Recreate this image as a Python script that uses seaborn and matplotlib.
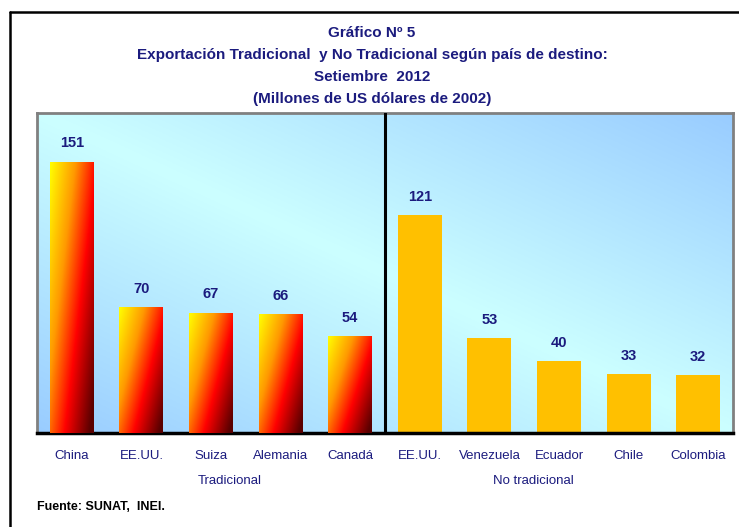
import numpy as np
import pandas as pd
import matplotlib
matplotlib.use('agg')
import matplotlib.pyplot as plt
from matplotlib.colors import LinearSegmentedColormap, to_rgb
import seaborn as sns

# data
paises = ['China', 'EE.UU.', 'Suiza', 'Alemania', 'Canadá',
          'EE.UU.', 'Venezuela', 'Ecuador', 'Chile', 'Colombia']
grupos = ['Tradicional'] * 5 + ['No tradicional'] * 5
valores = [151, 70, 67, 66, 54, 121, 53, 40, 33, 32]

titulo = ('Gráfico Nº 5\n'
          'Exportación Tradicional  y No Tradicional según país de destino:\n'
          'Setiembre  2012\n'
          '(Millones de US dólares de 2002)')
fuente = 'Fuente: SUNAT,  INEI.'

NAVY = '#1B1B7E'
FONT = ['Liberation Sans Narrow', 'Liberation Sans', 'DejaVu Sans']

sns.set_style('white')
plt.rcParams['font.family'] = FONT

df = pd.DataFrame({'clave': [f'{g}|{p}' for g, p in zip(grupos, paises)],
                   'pais': paises, 'grupo': grupos, 'valor': valores})

fig = plt.figure(figsize=(7.39, 5.27), dpi=100)
ax = fig.add_axes([37 / 739, 94 / 527, 696 / 739, 320 / 527])

# plot-area background: diagonal cyan / light blue gradient
u, v = np.meshgrid(np.linspace(0, 1, 200), np.linspace(0, 1, 200))
t = np.abs(u - v)
c1, c2 = np.array(to_rgb('#CCFFFF')), np.array(to_rgb('#99CCFF'))
bg = c1[None, None, :] * (1 - t[..., None]) + c2[None, None, :] * t[..., None]
ax.imshow(bg, extent=[0, 1, 0, 1], transform=ax.transAxes, aspect='auto',
          zorder=0, origin='upper')

sns.barplot(data=df, x='clave', y='valor', hue='grupo', dodge=False,
            palette={'Tradicional': '#FF8000', 'No tradicional': '#FFC000'},
            width=0.63, legend=False, ax=ax, zorder=2, saturation=1,
            linewidth=0, edgecolor='none')

# gradient fill for the traditional bars
cmap = LinearSegmentedColormap.from_list(
    'trad', [(0, '#FFFF00'), (0.35, '#FF9900'), (0.65, '#FF0000'), (1, '#5A0000')])
gu, gv = np.meshgrid(np.linspace(0, 1, 60), np.linspace(0, 1, 200))
grad = cmap(0.6 * gu + 0.45 * gv)
for bar in ax.patches:
    x0 = bar.get_x()
    if x0 + bar.get_width() / 2 < 4.5:
        h = bar.get_height()
        im = ax.imshow(grad, extent=[x0, x0 + bar.get_width(), 0, h],
                       aspect='auto', origin='upper', zorder=3)
        im.set_clip_path(bar)

ax.set_xlim(-0.5, 9.5)
ax.set_ylim(0, 178)

# value labels
for i, val in enumerate(valores):
    ax.annotate(str(val), (i, val), xytext=(0, 8), textcoords='offset points',
                ha='center', va='bottom', fontsize=10.5, fontweight='bold',
                color=NAVY, zorder=5)

# divider between groups
ax.axvline(4.5, color='black', lw=2.2, zorder=4)

ax.set_xticks(range(len(paises)))
ax.set_xticklabels(paises, fontsize=9.5, color=NAVY)
ax.set_xticks([-0.5, 2, 7, 9.5], minor=True)
ax.tick_params(axis='x', which='major', length=0, pad=12)
ax.tick_params(axis='x', which='minor', length=4, width=1.5, color='black',
               direction='out')
ax.set_yticks([])
ax.set_xlabel('')
ax.set_ylabel('')

for side in ['left', 'top', 'right']:
    ax.spines[side].set_color('#808080')
    ax.spines[side].set_linewidth(2)
ax.spines['bottom'].set_color('black')
ax.spines['bottom'].set_linewidth(2.5)

# group labels
ax.text(2.27, -0.15, 'Tradicional', transform=ax.get_xaxis_transform(),
        ha='center', va='center', fontsize=9.5, color=NAVY)
ax.text(6.63, -0.15, 'No tradicional', transform=ax.get_xaxis_transform(),
        ha='center', va='center', fontsize=9.5, color=NAVY)

fig.text(372 / 739, 1 - 66 / 527, titulo, ha='center', va='center',
         fontsize=11, fontweight='bold', color=NAVY, linespacing=1.72)
fig.text(37 / 739, 1 - 507 / 527, fuente, ha='left', va='center',
         fontsize=9, fontweight='bold', color='black',
         family=['Liberation Sans', 'DejaVu Sans'])

# outer frame (only top and left edges are inside the picture)
fig.add_artist(plt.Line2D([10 / 739, 10 / 739], [-0.01, 1 - 12 / 527],
                          transform=fig.transFigure, color='black', lw=1.8))
fig.add_artist(plt.Line2D([10 / 739, 1.01], [1 - 12 / 527, 1 - 12 / 527],
                          transform=fig.transFigure, color='black', lw=1.8))

fig.savefig('out.png', dpi=100)
